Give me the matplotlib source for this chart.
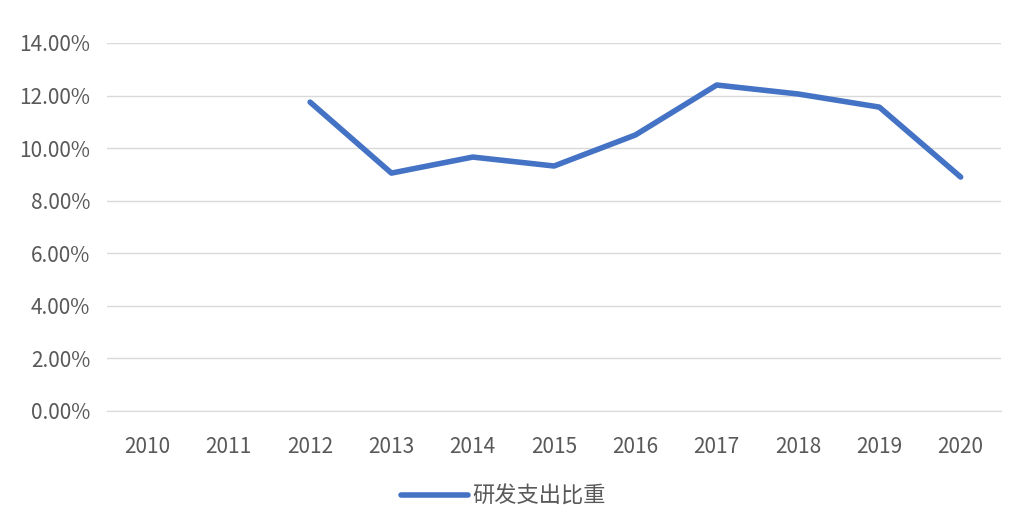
import numpy as np
import matplotlib
matplotlib.use('Agg')
import matplotlib.pyplot as plt
from matplotlib.ticker import PercentFormatter

plt.rcParams['font.family'] = ['Noto Sans CJK SC', 'DejaVu Sans']

years = ['2010', '2011', '2012', '2013', '2014', '2015', '2016', '2017', '2018', '2019', '2020']
ratio = [np.nan, np.nan, 11.75, 9.05, 9.66, 9.32, 10.5, 12.4, 12.06, 11.56, 8.9]
series_name = '研发支出比重'

fig = plt.figure(figsize=(10.27, 5.28), dpi=100)
ax = fig.add_axes([0.104, 0.2216, 0.871, 0.697])

x = np.arange(len(years))
ax.plot(x, ratio, color='#4472C4', linewidth=4, solid_capstyle='round', label=series_name)

ax.set_xlim(-0.5, len(years) - 0.5)
ax.set_ylim(0, 14)
ax.set_yticks(np.arange(0, 15, 2))
ax.yaxis.set_major_formatter(PercentFormatter(decimals=2))
ax.set_xticks(x)
ax.set_xticklabels(years)
ax.grid(axis='y', color='#D9D9D9', linewidth=1)
ax.set_axisbelow(True)
for s in ['top', 'right', 'left']:
    ax.spines[s].set_visible(False)
ax.spines['bottom'].set_color('#D9D9D9')
ax.tick_params(length=0, labelsize=15, colors='#595959')
ax.tick_params(axis='x', pad=18)
ax.tick_params(axis='y', pad=12)

fig.legend(loc='lower center', bbox_to_anchor=(0.49, 0.0), frameon=False, fontsize=16,
           labelcolor='#595959', handlelength=3, handletextpad=0.2)

fig.savefig('out.png', dpi=100)
